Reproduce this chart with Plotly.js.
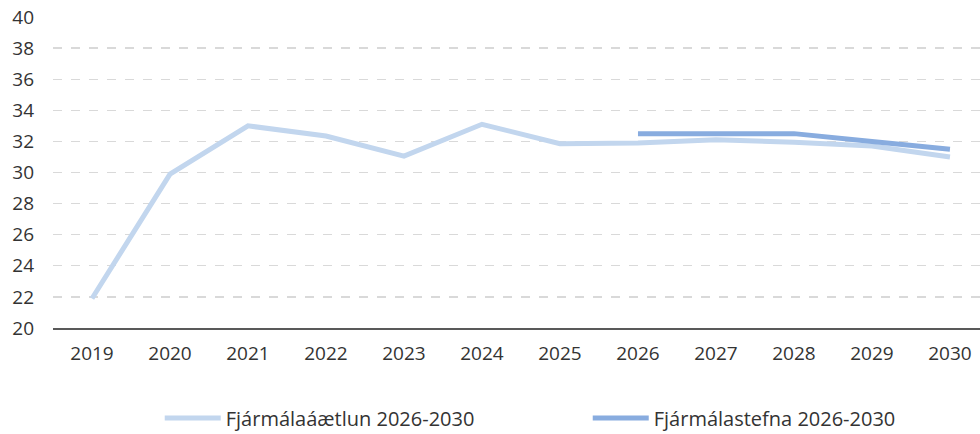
<!DOCTYPE html>
<html>
<head>
<meta charset="utf-8">
<script src="https://cdn.plot.ly/plotly-3.0.1.min.js"></script>
<style>
html,body{margin:0;padding:0;background:#fff;}
#chart{width:980px;height:434px;}
</style>
</head>
<body>
<div id="chart"></div>
<script>
const years = [2019, 2020, 2021, 2022, 2023, 2024, 2025, 2026, 2027, 2028, 2029, 2030];
const aaetlun = [21.9, 29.9, 33.0, 32.35, 31.05, 33.1, 31.85, 31.9, 32.1, 31.95, 31.7, 31.0];
const stefnaYears = [2026, 2027, 2028, 2029, 2030];
const stefna = [32.5, 32.5, 32.5, 32.0, 31.5];
const seriesNames = ["Fjármálaáætlun 2026-2030", "Fjármálastefna 2026-2030"];
const yTicks = [20, 22, 24, 26, 28, 30, 32, 34, 36, 38, 40];

const tickFont = {family: "Open Sans, Noto Sans, sans-serif", size: 19, color: "#333333"};
const legendFont = {family: "Open Sans, Noto Sans, sans-serif", size: 20, color: "#333333"};

const traces = [
  {x: years, y: aaetlun, name: seriesNames[0], type: "scatter", mode: "lines",
   line: {color: "#c2d6ee", width: 5}},
  {x: stefnaYears, y: stefna, name: seriesNames[1], type: "scatter", mode: "lines",
   line: {color: "#88acdf", width: 5}}
];

const layout = {
  width: 980, height: 434,
  margin: {l: 53, r: 0, t: 17, b: 106},
  paper_bgcolor: "#ffffff", plot_bgcolor: "#ffffff",
  font: tickFont,
  showlegend: true,
  legend: {orientation: "h", xref: "container", yref: "container",
    x: 0.163, y: 0.037, xanchor: "left", yanchor: "middle",
    font: legendFont, entrywidth: 357, entrywidthmode: "pixels", itemwidth: 56},
  xaxis: {range: [2018.5, 2030.385], tickvals: years, ticktext: years.map(String),
    showgrid: false, zeroline: false, showline: true, linecolor: "#595959", linewidth: 1.5,
    ticks: "", ticklabelstandoff: 8, tickfont: tickFont, fixedrange: true},
  yaxis: {range: [20, 40], tickvals: yTicks, showgrid: true, gridcolor: "#d9d9d9",
    griddash: "dash", gridwidth: 1.3, zeroline: false, showline: false,
    ticks: "", ticklabelstandoff: 18, tickfont: tickFont, fixedrange: true}
};

Plotly.newPlot("chart", traces, layout, {staticPlot: true});
</script>
</body>
</html>
